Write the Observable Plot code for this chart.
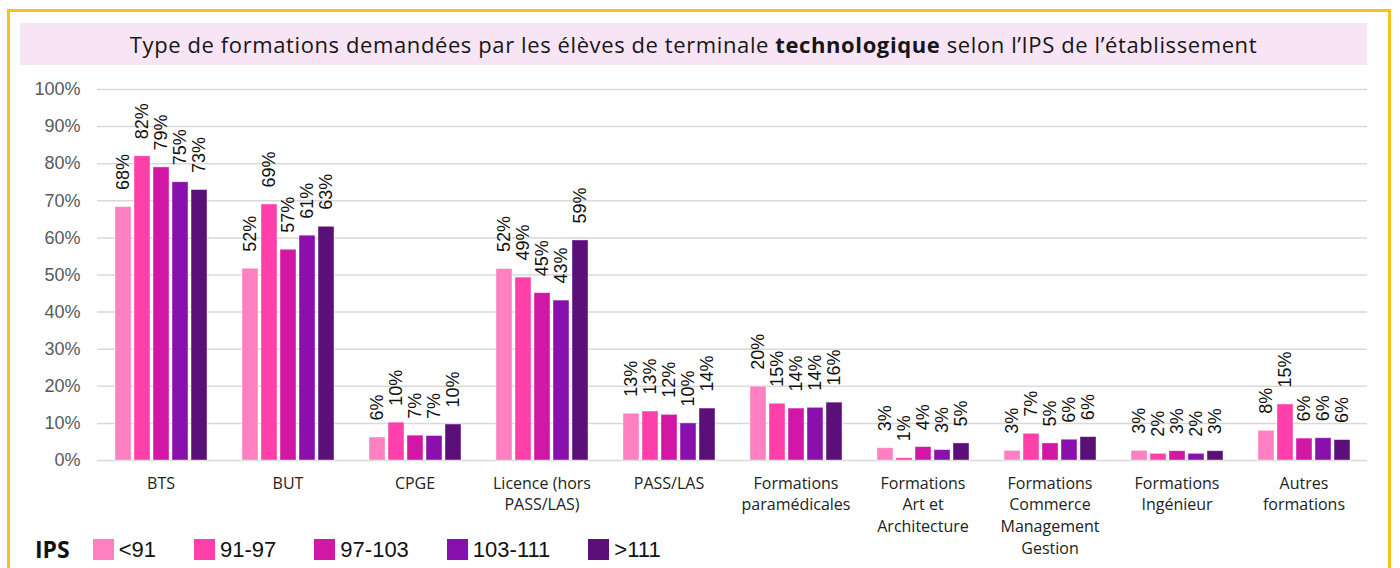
<!DOCTYPE html>
<html>
<head>
<meta charset="utf-8">
<script src="https://cdn.jsdelivr.net/npm/d3@7"></script>
<script src="https://cdn.jsdelivr.net/npm/@observablehq/plot@0.6"></script>
<style>
  html, body { margin: 0; padding: 0; background: #fff; overflow: hidden; }
  #page { position: relative; width: 1400px; height: 568px; overflow: hidden; }
  #frame { position: absolute; left: 7px; top: 9px; width: 1384px; height: 600px; border: 3px solid #f8c21c; box-sizing: border-box; }
  #title { position: absolute; left: 20px; top: 23px; width: 1347px; height: 42px; background: #f7e4f4;
           font-family: "Open Sans", sans-serif; font-size: 22px; letter-spacing: 0.6px; color: #161616; text-align: center; line-height: 42px; }
  #chart { position: absolute; left: 0; top: 70px; }
  #legend { position: absolute; left: 35px; top: 538px; display: flex; align-items: center; line-height: 1;
            font-family: "Liberation Sans", Arial, sans-serif; font-size: 22px; color: #111; }
  #legend .lab { font-family: "Open Sans", sans-serif; font-weight: bold; margin-right: 23px; font-size: 23px; }
  #legend .item { display: flex; align-items: center; margin-right: 38px; }
  #legend .sw { width: 21px; height: 21px; margin-right: 5px; }
</style>
</head>
<body>
<div id="page">
  <div id="frame"></div>
  <div id="title">Type de formations demandées par les élèves de terminale <b>technologique</b> selon l’IPS de l’établissement</div>
  <div id="chart"></div>
  <div id="legend"></div>
</div>
<script>
const categories = ["BTS", "BUT", "CPGE", "Licence (hors\nPASS/LAS)", "PASS/LAS", "Formations\nparamédicales",
  "Formations\nArt et\nArchitecture", "Formations\nCommerce\nManagement\nGestion", "Formations\nIngénieur", "Autres\nformations"];
const series = ["<91", "91-97", "97-103", "103-111", ">111"];
const colors = ["#ff80c0", "#ff3faa", "#d216a6", "#8a10ae", "#5b0f79"];
const ipsLt91    = [68.3, 51.7, 6.2, 51.6, 12.6, 19.9, 3.3, 2.6, 2.6, 8.0];
const ips91_97   = [82.0, 69.0, 10.2, 49.3, 13.2, 15.3, 0.6, 7.2, 1.8, 15.1];
const ips97_103  = [79.0, 56.8, 6.7, 45.1, 12.3, 14.0, 3.6, 4.6, 2.5, 5.9];
const ips103_111 = [75.0, 60.6, 6.6, 43.1, 10.0, 14.2, 2.8, 5.6, 1.8, 6.0];
const ipsGt111   = [72.9, 63.0, 9.7, 59.3, 14.0, 15.6, 4.6, 6.3, 2.5, 5.5];
const yTicks = [0, 10, 20, 30, 40, 50, 60, 70, 80, 90, 100];

const seriesValues = [ipsLt91, ips91_97, ips97_103, ips103_111, ipsGt111];
const rows = categories.flatMap((c, i) => series.map((s, j) => ({category: c, ips: s, value: seriesValues[j][i]})));

const chart = Plot.plot({
  width: 1400,
  height: 498,
  marginTop: 19,
  marginBottom: 108,
  marginLeft: 94,
  marginRight: 30,
  style: {fontFamily: "'Liberation Sans', Arial, sans-serif", background: "transparent"},
  fx: {domain: categories, padding: 0, axis: null, label: null},
  x: {domain: series, paddingInner: 0.18, paddingOuter: 0.8, axis: null},
  y: {domain: [0, 100], axis: null},
  color: {domain: series, range: colors},
  marks: [
    Plot.gridY(yTicks, {stroke: "#d9d9d9", strokeOpacity: 1, strokeWidth: 1.5}),
    Plot.axisY(yTicks, {tickSize: 0, tickPadding: 17, tickFormat: d => d + "%", fontSize: 18, fill: "#595959", label: null}),
    Plot.barY(rows, {fx: "category", x: "ips", y: "value", fill: "ips", stroke: "#fff", strokeOpacity: 0.5, strokeWidth: 0.8}),
    Plot.text(rows, {fx: "category", x: "ips", y: "value", text: d => Math.round(d.value) + "%", rotate: -90,
      textAnchor: "start", dy: -17, fontSize: 18, fill: "#111"}),
    Plot.text(categories, {fx: d => d, text: d => d, frameAnchor: "bottom", lineAnchor: "top", dy: 13,
      fontSize: 16, lineHeight: 1.35, fontFamily: "'Open Sans', sans-serif", fill: "#222"})
  ]
});
document.getElementById("chart").appendChild(chart);

const legend = d3.select("#legend");
legend.append("span").attr("class", "lab").text("IPS");
series.forEach((s, i) => {
  const it = legend.append("div").attr("class", "item");
  it.append("div").attr("class", "sw").style("background", colors[i]);
  it.append("span").text(s);
});
</script>
</body>
</html>
